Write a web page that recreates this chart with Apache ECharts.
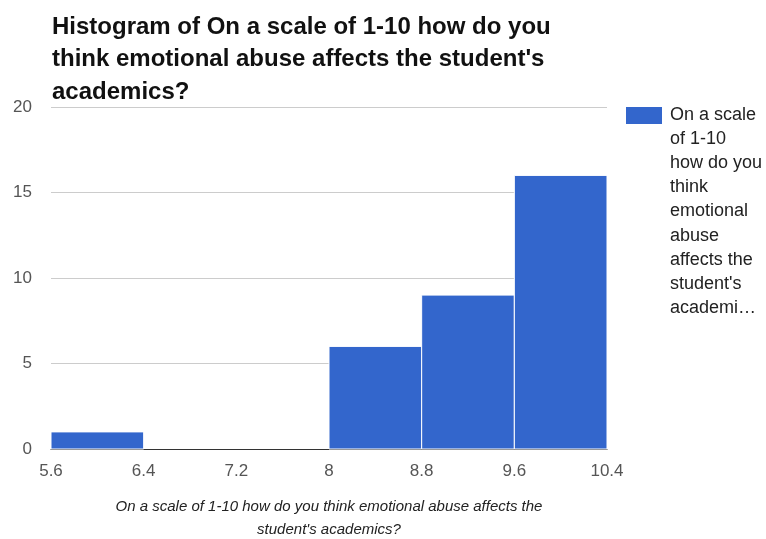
<!DOCTYPE html>
<html>
<head>
<meta charset="utf-8">
<style>
  html, body { margin: 0; padding: 0; background: #fff; }
  #chart { width: 766px; height: 539px; }
</style>
<script src="https://cdn.jsdelivr.net/npm/echarts@6/dist/echarts.min.js"></script>
</head>
<body>
<div id="chart"></div>
<script>
// Histogram bins: edges on the rating scale and the count of answers per bin
const binEdges = [5.6, 6.4, 7.2, 8.0, 8.8, 9.6, 10.4];
const binCounts = [1, 0, 0, 6, 9, 16];

const titleText = 'Histogram of On a scale of 1-10 how do you\nthink emotional abuse affects the student\'s\nacademics?';
const axisTitle = 'On a scale of 1-10 how do you think emotional abuse affects the\nstudent\'s academics?';
const legendLines = ['On a scale', 'of 1-10', 'how do you', 'think', 'emotional', 'abuse', 'affects the', 'student\'s', 'academi\u2026'];

const barColor = '#3366cc';
const font = '"Liberation Sans", Arial, sans-serif';

const binData = binCounts.map((c, i) => [binEdges[i], binEdges[i + 1], c]);

const chart = echarts.init(document.getElementById('chart'), null, { renderer: 'canvas' });

chart.setOption({
  animation: false,
  backgroundColor: '#fff',
  textStyle: { fontFamily: font },
  title: {
    text: titleText,
    left: 47,
    top: 6,
    textStyle: {
      fontFamily: font,
      fontSize: 24,
      fontWeight: 'bold',
      color: '#111',
      lineHeight: 32.5
    }
  },
  grid: { left: 51, right: 159, top: 107, bottom: 90, containLabel: false, outerBoundsMode: 'none' },
  xAxis: {
    type: 'value',
    min: binEdges[0],
    max: binEdges[binEdges.length - 1],
    interval: 0.8,
    name: axisTitle,
    nameLocation: 'middle',
    nameGap: 46,
    nameTextStyle: {
      fontFamily: font,
      fontSize: 15,
      fontStyle: 'italic',
      color: '#222',
      lineHeight: 23,
      align: 'center'
    },
    axisLine: { show: true, onZero: false, lineStyle: { color: '#333', width: 1 } },
    axisTick: { show: false },
    splitLine: { show: false },
    axisLabel: {
      margin: 14,
      fontSize: 17,
      color: '#555',
      fontFamily: font,
      formatter: v => String(+v.toFixed(1))
    }
  },
  yAxis: {
    type: 'value',
    min: 0,
    max: 20,
    interval: 5,
    axisLine: { show: false },
    axisTick: { show: false },
    splitLine: { show: true, lineStyle: { color: '#cccccc', width: 1 } },
    axisLabel: { margin: 19, fontSize: 17, color: '#555', fontFamily: font }
  },
  series: [{
    type: 'custom',
    name: 'On a scale of 1-10 how do you think emotional abuse affects the student\'s academics?',
    data: binData,
    encode: { x: [0, 1], y: 2 },
    renderItem: function (params, api) {
      const count = api.value(2);
      if (!count) return null;
      const p0 = api.coord([api.value(0), count]);
      const p1 = api.coord([api.value(1), 0]);
      return {
        type: 'rect',
        shape: { x: p0[0], y: p0[1], width: p1[0] - p0[0], height: p1[1] - p0[1] },
        style: { fill: barColor, stroke: '#fff', lineWidth: 1 }
      };
    },
    z: 1
  }],
  graphic: [{
    type: 'group',
    left: 626,
    top: 103,
    children: [
      { type: 'rect', shape: { x: 0, y: 4, width: 36, height: 17 }, style: { fill: barColor } },
      {
        type: 'text',
        x: 44,
        y: 0,
        style: {
          text: legendLines.join('\n'),
          fontFamily: font,
          fontSize: 18,
          lineHeight: 24.1,
          fill: '#222',
          verticalAlign: 'top'
        }
      }
    ]
  }]
});
</script>
</body>
</html>
